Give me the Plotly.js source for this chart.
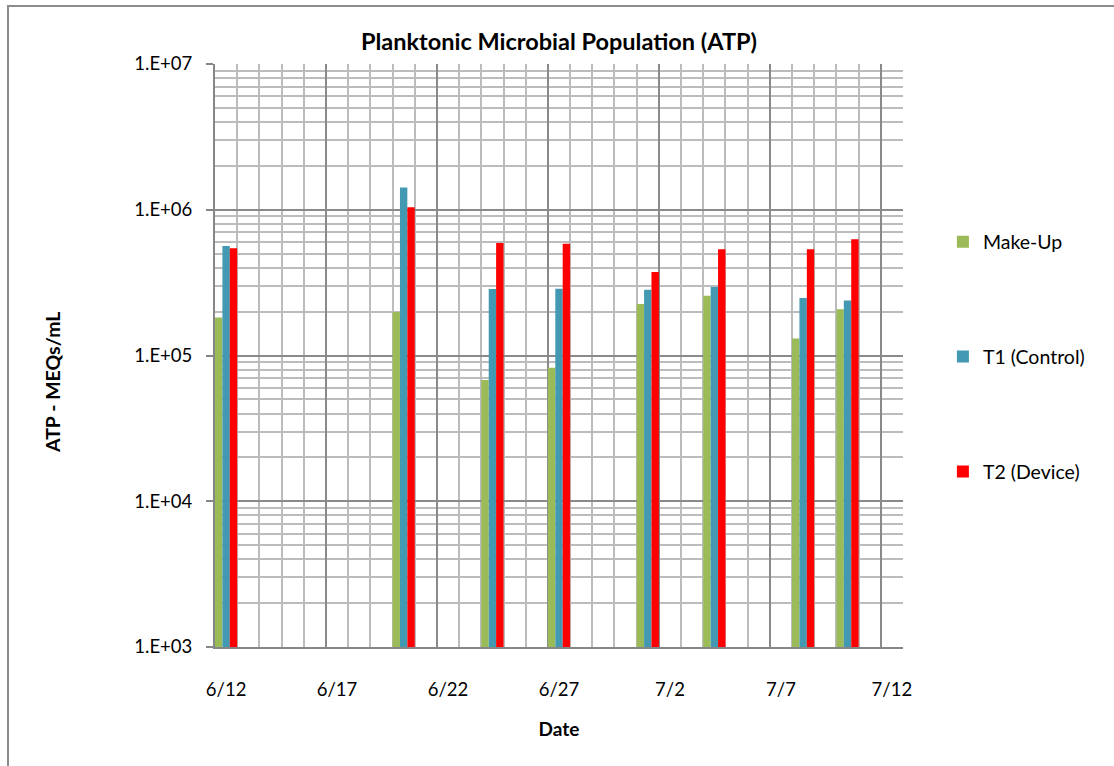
<!DOCTYPE html>
<html>
<head>
<meta charset="utf-8">
<script src="https://cdn.plot.ly/plotly-3.0.1.min.js"></script>
<style>
  html, body { margin: 0; padding: 0; background: #ffffff; }
  #chart { position: absolute; left: 0; top: 0; width: 1114px; height: 766px; }
  #frame { position: absolute; left: 7px; top: 5px; width: 1200px; height: 900px;
           border-left: 2px solid #8c8c8c; border-top: 2px solid #8c8c8c; pointer-events: none; }
</style>
</head>
<body>
<div id="chart"></div>
<div id="frame"></div>
<script>
// ---- data ----
const dates = ['2012-06-12', '2012-06-20', '2012-06-24', '2012-06-27', '2012-07-01', '2012-07-04', '2012-07-08', '2012-07-10'];
const makeUp = [182000, 199000, 68000, 82500, 226000, 257000, 131000, 208000];
const t1Control = [564000, 1420000, 286000, 287000, 283000, 295000, 248000, 238000];
const t2Device = [544000, 1040000, 591000, 585000, 374000, 535000, 535000, 627000];
const seriesNames = ['Make-Up', 'T1 (Control)', 'T2 (Device)'];
const seriesColors = ['#9BBB59', '#4399B1', '#FF0000'];
const xTickDates = ['2012-06-12', '2012-06-17', '2012-06-22', '2012-06-27', '2012-07-02', '2012-07-07', '2012-07-12'];
const xTickLabels = ['6/12', '6/17', '6/22', '6/27', '7/2', '7/7', '7/12'];
const yTickVals = [1e3, 1e4, 1e5, 1e6, 1e7];
const yTickLabels = ['1.E+03', '1.E+04', '1.E+05', '1.E+06', '1.E+07'];

const DAY = 86400000;
const xRange = ['2012-06-11 12:00', '2012-07-12 12:00'];
const FONT = 'Lato, "Open Sans", sans-serif';

const seriesValues = [makeUp, t1Control, t2Device];
const traces = seriesValues.map((vals, i) => ({
  type: 'bar',
  name: seriesNames[i],
  x: dates,
  y: vals,
  width: DAY / 3,
  offset: -DAY / 2 + i * DAY / 3,
  marker: { color: seriesColors[i], line: { width: 0 } },
  legendgroup: 'g' + i,
  hoverinfo: 'x+y+name'
}));
// empty helper trace so the day-boundary grid axis (x2) is drawn
traces.push({ type: 'scatter', x: [], y: [], xaxis: 'x2', yaxis: 'y', showlegend: false, hoverinfo: 'skip' });

const layout = {
  width: 1114,
  height: 766,
  margin: { l: 215, r: 211, t: 64, b: 119 },
  paper_bgcolor: '#ffffff',
  plot_bgcolor: '#ffffff',
  barmode: 'overlay',
  font: { family: FONT, size: 18, color: '#000000' },
  title: {
    text: '<b>Planktonic Microbial Population (ATP)</b>',
    font: { family: FONT, size: 23.5, color: '#000000' },
    x: 0.5, xref: 'paper', xanchor: 'center',
    y: 1 - 42 / 766, yref: 'container', yanchor: 'middle'
  },
  xaxis: {
    type: 'date',
    range: xRange,
    tickmode: 'array',
    tickvals: xTickDates,
    ticktext: xTickLabels,
    ticks: '',
    ticklabelstandoff: 25,
    showgrid: false,
    zeroline: false,
    showline: true,
    linecolor: '#868686',
    linewidth: 2,
    tickfont: { family: FONT, size: 18.5, color: '#000000' },
    title: { text: '<b>Date</b>', font: { family: FONT, size: 19, color: '#000000' }, standoff: 23 }
  },
  xaxis2: {
    type: 'date',
    overlaying: 'x',
    anchor: 'y',
    range: xRange,
    tickmode: 'linear',
    tick0: '2012-06-11 12:00',
    dtick: 5 * DAY,
    showticklabels: false,
    ticks: '',
    showgrid: true,
    gridcolor: '#8a8a8a',
    gridwidth: 2,
    zeroline: false,
    showline: false,
    minor: { tick0: '2012-06-11 12:00', dtick: DAY, showgrid: true, gridcolor: '#bcbcbc', gridwidth: 2, ticks: '' }
  },
  yaxis: {
    type: 'log',
    range: [3, 7],
    tickmode: 'array',
    tickvals: yTickVals,
    ticktext: yTickLabels,
    ticks: 'outside',
    ticklen: 7,
    tickwidth: 2,
    tickcolor: '#868686',
    ticklabelstandoff: 10,
    showgrid: true,
    gridcolor: '#8a8a8a',
    gridwidth: 2,
    minor: { dtick: 'D1', showgrid: true, gridcolor: '#bcbcbc', gridwidth: 2, ticks: '' },
    zeroline: false,
    showline: true,
    linecolor: '#868686',
    linewidth: 2,
    tickfont: { family: FONT, size: 18.5, color: '#000000' }
  },
  legend: {
    x: 1.058, xanchor: 'left',
    y: 0.728, yanchor: 'top',
    tracegroupgap: 86.5,
    font: { family: FONT, size: 19.5, color: '#000000' },
    bgcolor: 'rgba(0,0,0,0)'
  },
  showlegend: true,
  annotations: [{
    text: '<b>ATP - MEQs/mL</b>',
    textangle: -90,
    xref: 'paper', yref: 'paper',
    x: (52 - 215) / 688, y: (647 - 383) / 583,
    xanchor: 'center', yanchor: 'middle',
    showarrow: false,
    font: { family: FONT, size: 19.5, color: '#000000' }
  }]
};

Plotly.newPlot('chart', traces, layout, { displayModeBar: false });
</script>
</body>
</html>
